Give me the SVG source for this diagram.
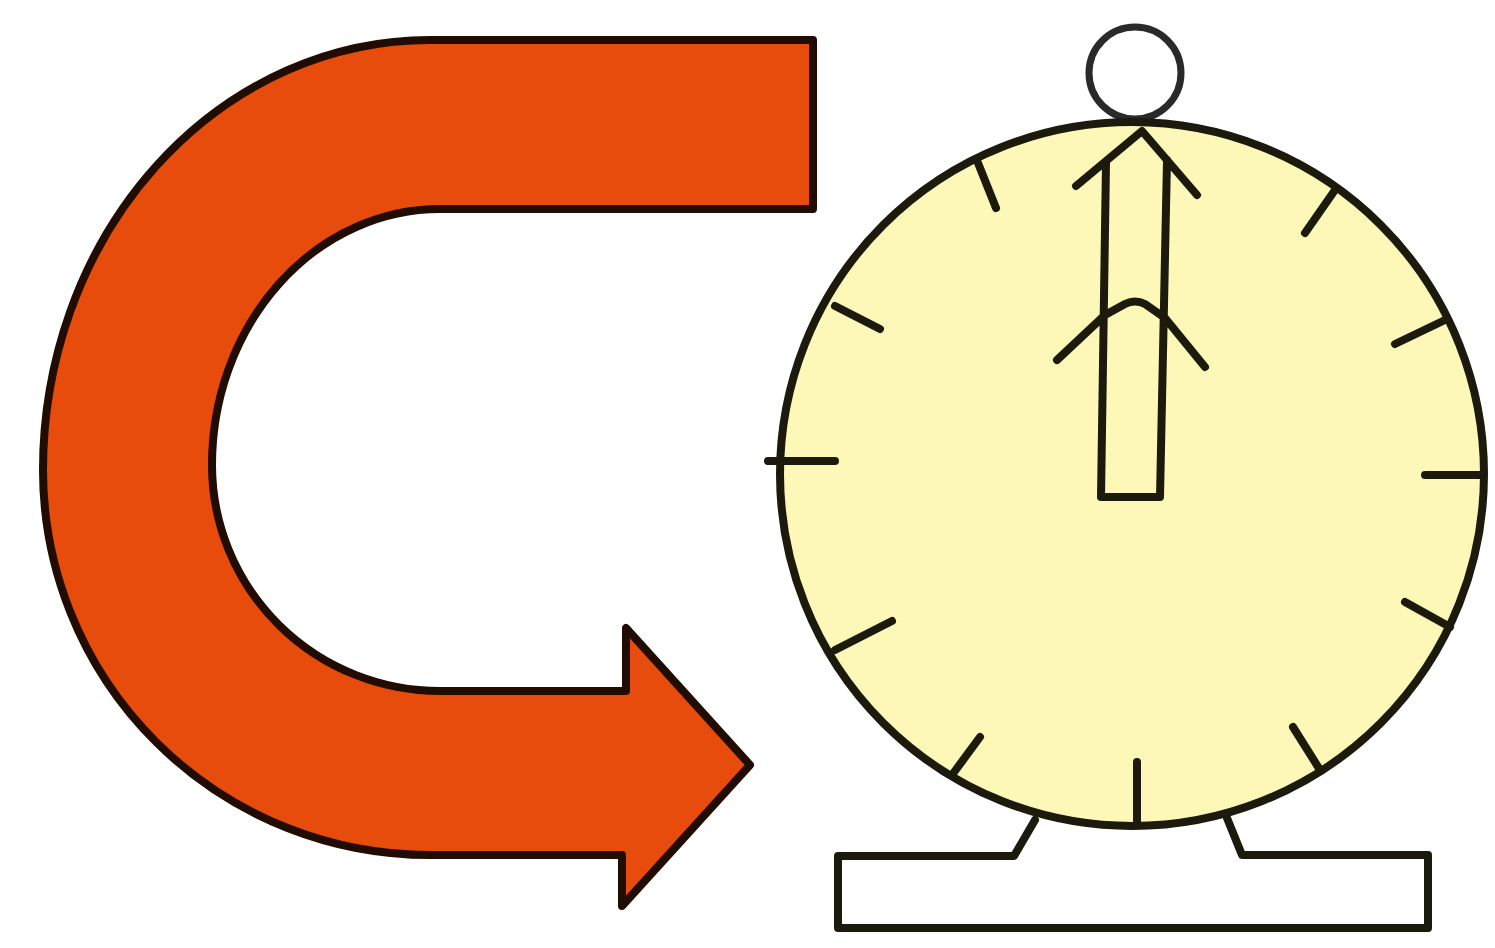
<svg xmlns="http://www.w3.org/2000/svg" width="1495" height="948" viewBox="0 0 1495 948">
<style>.l{fill:none;stroke:#1c1a0c;stroke-width:8;stroke-linecap:round;stroke-linejoin:round}</style>
<rect width="1495" height="948" fill="#fff"/>
<g id="curved-arrow">
<path d="M813 40H430A387 430 0 0 0 43 470A387 385 0 0 0 430 855H622V906L750 765L626 628V691H440A228 226 0 0 1 212 465A228 256 0 0 1 440 209H813Z" fill="#e84c0c" stroke="#200c00" stroke-width="8" stroke-linejoin="round"/>
</g>
<g id="base">
<path class="l" d="M1035 820L1014 856H838V928H1428V855H1242L1227 818"/>
</g>
<g id="knob">
<circle cx="1135" cy="73" r="46" fill="#fff" stroke="#2a2a2a" stroke-width="7"/>
</g>
<g id="dial">
<circle cx="1132" cy="474" r="352" fill="#fdf8b8" stroke="#1c1a0c" stroke-width="8"/>
<path class="l" d="M978 163L996 208M1335 190L1305 233M835 306L880 329M1445 320L1395 344M768 461H835M1425 475H1480M835 650L892 621M1405 602L1450 627M952 775L980 737M1293 727L1320 770M1137 762V825"/>
</g>
<g id="pointer">
<path class="l" d="M1106 163L1101 497H1160L1167 160M1076 186L1142 131L1197 195M1057 360L1105 315L1125 304Q1135 299 1145 304L1165 318L1205 367"/>
</g>
</svg>
